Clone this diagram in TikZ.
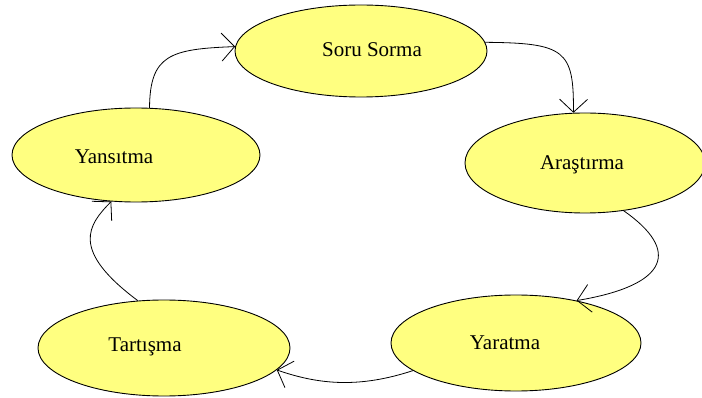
\documentclass[tikz,border=0pt]{standalone}
\usepackage{fontspec}
\setmainfont{Liberation Serif}
\usetikzlibrary{shapes.geometric,arrows.meta}
\definecolor{ellfill}{RGB}{255,255,128}
\tikzset{
  ell/.style={ellipse,draw=black,line width=0.9pt,fill=ellfill,inner sep=0pt},
  lbl/.style={font=\fontsize{21}{24}\selectfont,inner sep=0pt},
  arr/.style={line width=0.8pt,-{Straight Barb[length=13pt,width=28pt,line width=0.8pt]}}
}
\begin{document}
\begin{tikzpicture}[x=1pt,y=-1pt]
\useasboundingbox (0,0) rectangle (702,398);
\node[ell,minimum width=252pt,minimum height=92pt] (soru) at (361,51) {};
\node[ell,minimum width=240pt,minimum height=100pt] (arast) at (585,163) {};
\node[ell,minimum width=250pt,minimum height=96pt] (yar) at (516,343) {};
\node[ell,minimum width=252pt,minimum height=96pt] (tart) at (164,348) {};
\node[ell,minimum width=248pt,minimum height=94pt] (yans) at (136,155) {};
\node[lbl] (tsoru) at (372,50) {Soru Sorma};
\node[lbl] (tarast) at (582,165) {Araştırma};
\node[lbl] (tyar) at (505,343) {Yaratma};
\node[lbl] (ttart) at (145,347) {Tartışma};
\node[lbl] (tyans) at (114,157) {Yansıtma};
\draw[arr] (soru.4) .. controls (565,43) and (574,50) .. (arast.103);
\draw[arr] (arast.309) .. controls (680,250) and (670,285) .. (yar.35);
\draw[arr] (yar.195) .. controls (360,388) and (320,385) .. (tart.349);
\draw[arr] (tart.119) .. controls (70,250) and (88,225) .. (yans.242);
\draw[arr] (yans.74) .. controls (150,55) and (170,49) .. (soru.178);
\end{tikzpicture}
\end{document}
